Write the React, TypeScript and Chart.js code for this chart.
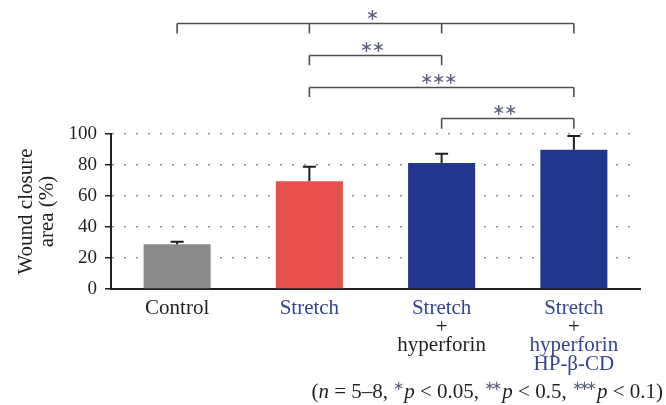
import React, { useEffect, useRef } from 'react';
import { Chart, registerables } from 'chart.js';

Chart.register(...registerables);

// ---------- data ----------
const categories = ['Control', 'Stretch', 'Stretch + hyperforin', 'Stretch + hyperforin HP-β-CD'];
const labelLines = [['Control'], ['Stretch'], ['Stretch', '+', 'hyperforin'], ['Stretch', '+', 'hyperforin', 'HP-β-CD']];
const labelLineBlue = [[false], [true], [true, false, false], [true, false, true, true]];
const closureMeans = [28.8, 69.5, 81.3, 89.9];
const closureErrors = [1.7, 9.4, 6.0, 8.8];
const barColors = ['#8a8b89', '#e8514b', '#21358f', '#21358f'];
const yMin = 0;
const yMax = 100;
const yStep = 20;
const yTitle = ['Wound closure', 'area (%)'];
// significance brackets: category indices and level (in y units, above the axis)
const bracketFrom = [0, 1, 1, 2];
const bracketTo = [3, 2, 3, 3];
const bracketTicks = [[0, 1, 2, 3], [1, 2], [1, 3], [2, 3]];
const bracketLevels = [171.5, 151, 130.5, 110];
const bracketStars = [1, 2, 3, 2];
const bracketDrop = 6.6;
// footnote
const footnoteParts: { t: string; k: 'n' | 'i' | 's' }[] = [
  { t: '(', k: 'n' },
  { t: 'n', k: 'i' },
  { t: ' = 5–8, ', k: 'n' },
  { t: '*', k: 's' },
  { t: 'p', k: 'i' },
  { t: ' < 0.05, ', k: 'n' },
  { t: '**', k: 's' },
  { t: 'p', k: 'i' },
  { t: ' < 0.5, ', k: 'n' },
  { t: '***', k: 's' },
  { t: 'p', k: 'i' },
  { t: ' < 0.1)', k: 'n' },
];

const SERIF = '"Liberation Serif", "DejaVu Serif", serif';
const DARK = '#231f20';
const BLUE_TEXT = '#36438e';
const STAR_COLOR = '#5a5f78';
const FS = 21;
const TICK_FS = 19;

const overlayPlugin = {
  id: 'overlay',
  afterDatasetsDraw(chart: any) {
    const { ctx } = chart;
    const meta = chart.getDatasetMeta(0);
    const y = chart.scales.y;
    ctx.save();
    ctx.strokeStyle = DARK;
    ctx.lineWidth = 2;
    meta.data.forEach((bar: any, i: number) => {
      const top = y.getPixelForValue(closureMeans[i]);
      const errTop = y.getPixelForValue(closureMeans[i] + closureErrors[i]);
      ctx.beginPath();
      ctx.moveTo(bar.x, top);
      ctx.lineTo(bar.x, errTop);
      ctx.moveTo(bar.x - 6.5, errTop);
      ctx.lineTo(bar.x + 6.5, errTop);
      ctx.stroke();
    });
    ctx.restore();
  },
  afterDraw(chart: any) {
    const { ctx, chartArea } = chart;
    const x = chart.scales.x;
    const y = chart.scales.y;
    ctx.save();
    // brackets
    ctx.strokeStyle = '#4d4d4f';
    ctx.lineWidth = 1.6;
    bracketLevels.forEach((lvl, b) => {
      const yy = Math.round(y.getPixelForValue(lvl)) + 0.5;
      const yd = y.getPixelForValue(lvl - bracketDrop);
      const x1 = x.getPixelForValue(bracketFrom[b]);
      const x2 = x.getPixelForValue(bracketTo[b]);
      ctx.beginPath();
      ctx.moveTo(x1, yy);
      ctx.lineTo(x2, yy);
      bracketTicks[b].forEach((t) => {
        const tx = x.getPixelForValue(t);
        ctx.moveTo(tx, yy);
        ctx.lineTo(tx, yd);
      });
      ctx.stroke();
      // stars
      const n = bracketStars[b];
      const mid = (x1 + x2) / 2 - 3;
      ctx.fillStyle = STAR_COLOR;
      ctx.font = '16px "DejaVu Sans", sans-serif';
      ctx.textAlign = 'center';
      ctx.textBaseline = 'middle';
      for (let s = 0; s < n; s++) {
        const sx = mid + (s - (n - 1) / 2) * 12;
        ctx.fillText('∗', sx, yy - 8);
      }
    });

    // category labels
    ctx.textAlign = 'center';
    ctx.textBaseline = 'alphabetic';
    ctx.font = `${FS}px ${SERIF}`;
    labelLines.forEach((lines, i) => {
      const cx = x.getPixelForValue(i);
      lines.forEach((line, j) => {
        ctx.fillStyle = labelLineBlue[i][j] ? BLUE_TEXT : DARK;
        ctx.fillText(line, cx, chartArea.bottom + 25 + j * 18.7);
      });
    });

    // footnote
    const fontFor = (k: string) =>
      k === 'i' ? `italic ${FS}px ${SERIF}` : k === 's' ? `13px "DejaVu Sans", sans-serif` : `${FS}px ${SERIF}`;
    const widthOf = (p: { t: string; k: string }) => {
      ctx.font = fontFor(p.k);
      if (p.k === 's') return p.t.length * 7 + 4;
      return ctx.measureText(p.t).width;
    };
    const total = footnoteParts.reduce((a, p) => a + widthOf(p), 0);
    let fx = chart.width - 3 - total;
    const baseY = chartArea.bottom + 109;
    ctx.textAlign = 'left';
    ctx.fillStyle = DARK;
    footnoteParts.forEach((p) => {
      const w = widthOf(p);
      ctx.font = fontFor(p.k);
      if (p.k === 's') {
        ctx.fillStyle = STAR_COLOR;
        for (let s = 0; s < p.t.length; s++) {
          ctx.fillText('∗', fx + s * 7, baseY - 8);
        }
        ctx.fillStyle = DARK;
      } else {
        ctx.fillText(p.t, fx, baseY);
      }
      fx += w;
    });
    ctx.restore();
  },
};

export default function App() {
  const canvasRef = useRef<HTMLCanvasElement | null>(null);

  useEffect(() => {
    if (!canvasRef.current) return;
    const chart = new Chart(canvasRef.current, {
      type: 'bar',
      data: {
        labels: categories,
        datasets: [
          {
            data: closureMeans,
            backgroundColor: barColors,
            borderWidth: 0,
            barPercentage: 0.507,
            categoryPercentage: 1,
          },
        ],
      },
      options: {
        animation: false,
        responsive: false,
        devicePixelRatio: 1,
        layout: { padding: { top: 134, right: 26, left: 0, bottom: 0 } },
        plugins: { legend: { display: false }, tooltip: { enabled: false } },
        scales: {
          x: {
            type: 'category',
            offset: true,
            grid: { display: false },
            border: { display: true, color: DARK, width: 2 },
            ticks: { display: false },
            afterFit: (scale: any) => {
              scale.height = 116;
            },
          },
          y: {
            min: yMin,
            max: yMax,
            ticks: {
              stepSize: yStep,
              color: DARK,
              padding: 8,
              font: { family: SERIF, size: TICK_FS },
            },
            grid: {
              color: (c: any) => (c.tick && c.tick.value === 0 ? 'rgba(0,0,0,0)' : '#8f8f8f'),
              lineWidth: 1.5,
              tickLength: 6,
              tickColor: DARK,
              tickWidth: 1.5,
            },
            border: { display: true, color: DARK, width: 2, dash: [2, 10] },
            title: {
              display: true,
              text: yTitle,
              color: DARK,
              font: { family: SERIF, size: FS, lineHeight: 0.98 },
              padding: { top: 16.5, bottom: 0 },
            },
            afterFit: (scale: any) => {
              scale.width = 111;
            },
          },
        },
      },
      plugins: [overlayPlugin],
    });
    return () => chart.destroy();
  }, []);

  return (
    <div style={{ position: 'fixed', left: 0, top: 0, width: 666, height: 405, background: '#fff' }}>
      <canvas ref={canvasRef} width={666} height={405} style={{ width: 666, height: 405, display: 'block' }} />
    </div>
  );
}
